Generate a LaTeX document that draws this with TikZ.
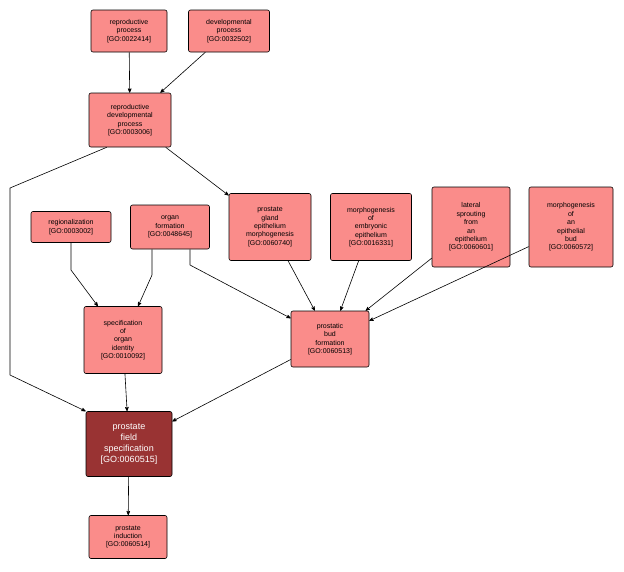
\documentclass[tikz,border=0pt]{standalone}
\usepackage{fontspec}
\setmainfont{Liberation Sans}
\usetikzlibrary{arrows}
\definecolor{goterm}{HTML}{FA8C8A}
\definecolor{goself}{HTML}{993333}
\begin{document}
\begin{tikzpicture}[x=1pt,y=-1pt,->,>=stealth',semithick,
  term/.style={draw=black,fill=goterm,rounded corners=2pt,align=center,font=\fontsize{7}{8.4}\selectfont,inner sep=1pt,minimum height=#1},
  term/.default=30pt,
  self/.style={term=65pt,fill=goself,text=white,font=\fontsize{9}{11}\selectfont}]
\useasboundingbox (0,0) rectangle (624,571);
\node[term=42pt,minimum width=76pt] (rp) at (129,31) {reproductive\\process\\{[GO:0022414]}};
\node[term=42pt,minimum width=81pt] (dp) at (229,31) {developmental\\process\\{[GO:0032502]}};
\node[term=54pt,minimum width=82pt] (rdp) at (130,120) {reproductive\\developmental\\process\\{[GO:0003006]}};
\node[term=31pt,minimum width=80pt] (reg) at (71,227) {regionalization\\{[GO:0003002]}};
\node[term=44pt,minimum width=79pt] (of) at (170,227) {organ\\formation\\{[GO:0048645]}};
\node[term=67pt,minimum width=82pt] (pgem) at (270,227) {prostate\\gland\\epithelium\\morphogenesis\\{[GO:0060740]}};
\node[term=67pt,minimum width=81pt] (mee) at (371,227) {morphogenesis\\of\\embryonic\\epithelium\\{[GO:0016331]}};
\node[term=80pt,minimum width=78pt] (lsfe) at (471,227) {lateral\\sprouting\\from\\an\\epithelium\\{[GO:0060601]}};
\node[term=80pt,minimum width=84pt] (meb) at (571,227) {morphogenesis\\of\\an\\epithelial\\bud\\{[GO:0060572]}};
\node[term=67pt,minimum width=78pt] (soi) at (123,340) {specification\\of\\organ\\identity\\{[GO:0010092]}};
\node[term=56pt,minimum width=78pt] (pbf) at (330,339) {prostatic\\bud\\formation\\{[GO:0060513]}};
\node[self,minimum width=86pt] (pfs) at (129,444) {prostate\\field\\specification\\{[GO:0060515]}};
\node[term=43pt,minimum width=78pt] (pi) at (128,537) {prostate\\induction\\{[GO:0060514]}};
\draw (rp) -- (rdp);
\draw (dp) -- (rdp);
\draw (rdp) -- (pgem);
\draw (rdp.south west) ++(18,0) -- (10,188) -- (10,375) -- (pfs.north west);
\draw (reg.south) -- (71,270) -- (soi);
\draw (of.south) ++(-18,0) -- (152,275) -- (soi);
\draw (of.south) ++(20,0) -- (190,265) -- (pbf);
\draw (pgem) -- (pbf);
\draw (mee) -- (pbf);
\draw (lsfe) -- (pbf);
\draw (meb) -- (pbf);
\draw (soi) -- (pfs);
\draw (pbf) -- (pfs);
\draw (pfs) -- (pi);
\end{tikzpicture}
\end{document}
